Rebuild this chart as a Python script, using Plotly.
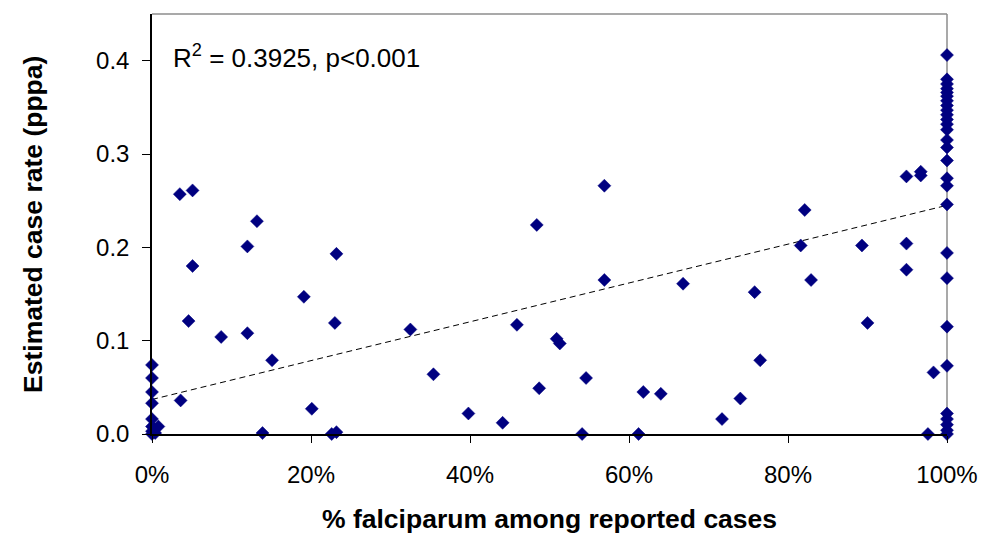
import plotly.graph_objects as go

# ---- data ----
pct_falciparum = [
    0, 0, 0, 0, 0, 0, 0.008, 0, 0, 0.004,
    0.036, 0.035, 0.051, 0.051, 0.046, 0.087, 0.120, 0.120, 0.132, 0.139,
    0.151, 0.191, 0.201, 0.226, 0.232, 0.230, 0.232,
    0.325, 0.354, 0.398, 0.441, 0.459, 0.484, 0.487, 0.509, 0.513, 0.541,
    0.546, 0.569, 0.569, 0.612, 0.618, 0.640, 0.668,
    0.717, 0.740, 0.758, 0.765, 0.816, 0.821, 0.829, 0.893, 0.900, 0.949,
    0.949, 0.949, 0.967, 0.967, 0.976, 0.983,
    1, 1, 1, 1, 1, 1, 1, 1, 1, 1, 1, 1, 1, 1,
    1, 1, 1, 1, 1, 1, 1, 1, 1, 1, 1, 1, 1, 1,
]
case_rate = [
    0.074, 0.060, 0.045, 0.033, 0.016, 0.008, 0.008, 0.003, 0.0, 0.001,
    0.036, 0.257, 0.261, 0.180, 0.121, 0.104, 0.201, 0.108, 0.228, 0.001,
    0.079, 0.147, 0.027, 0.0, 0.002, 0.119, 0.193,
    0.112, 0.064, 0.022, 0.012, 0.117, 0.224, 0.049, 0.102, 0.097, 0.0,
    0.060, 0.266, 0.165, 0.0, 0.045, 0.043, 0.161,
    0.016, 0.038, 0.152, 0.079, 0.202, 0.240, 0.165, 0.202, 0.119, 0.276,
    0.204, 0.176, 0.281, 0.277, 0.0, 0.066,
    0.406, 0.380, 0.375, 0.370, 0.366, 0.362, 0.357, 0.352, 0.347, 0.342,
    0.337, 0.332, 0.326, 0.315, 0.307, 0.293, 0.274, 0.266, 0.246, 0.194,
    0.167, 0.115, 0.073, 0.022, 0.016, 0.010, 0.004, 0.0,
]
trend_intercept = 0.037
trend_slope = 0.208
x_ticks = [0, 0.2, 0.4, 0.6, 0.8, 1.0]
x_tick_labels = ["0%", "20%", "40%", "60%", "80%", "100%"]
y_ticks = [0.0, 0.1, 0.2, 0.3, 0.4]
y_tick_labels = ["0.0", "0.1", "0.2", "0.3", "0.4"]
annotation_text = "R<sup>2</sup> = 0.3925, p<0.001"
x_title = "% falciparum among reported cases"
y_title = "Estimated case rate (pppa)"

FONT = "Liberation Sans, Arial, sans-serif"

trend_x = [0, 1]
trend_y = [trend_intercept + trend_slope * v for v in trend_x]

fig = go.Figure()
fig.add_trace(go.Scatter(
    x=trend_x, y=trend_y, mode="lines",
    line=dict(color="black", width=1, dash="6px,4px"),
    hoverinfo="skip", showlegend=False,
))
fig.add_trace(go.Scatter(
    x=pct_falciparum, y=case_rate, mode="markers",
    marker=dict(symbol="diamond", size=10, color="#000080",
                line=dict(color="#000080", width=0.5)),
    cliponaxis=False, showlegend=False,
))

fig.update_layout(
    width=990, height=535,
    margin=dict(l=152, r=37, t=14, b=101),
    paper_bgcolor="white", plot_bgcolor="white",
    font=dict(family=FONT, color="black", size=24),
    xaxis=dict(
        range=[0, 1], tickvals=x_ticks, ticktext=x_tick_labels,
        showgrid=False, zeroline=False, showline=True,
        linecolor="black", linewidth=1.5,
        ticks="outside", ticklen=7, tickcolor="black", tickwidth=1,
        ticklabelstandoff=11, tickfont=dict(size=24, family=FONT),
    ),
    yaxis=dict(
        range=[0, 0.45], tickvals=y_ticks, ticktext=y_tick_labels,
        showgrid=False, zeroline=False, showline=True,
        linecolor="black", linewidth=1.5,
        ticks="outside", ticklen=8, tickcolor="black", tickwidth=1,
        ticklabelstandoff=8, tickfont=dict(size=24, family=FONT),
    ),
    shapes=[
        dict(type="line", xref="paper", yref="paper", x0=0, x1=1, y0=1, y1=1,
             line=dict(color="#8c8c8c", width=1.5), layer="below"),
        dict(type="line", xref="paper", yref="paper", x0=1, x1=1, y0=0, y1=1,
             line=dict(color="#8c8c8c", width=1.5), layer="below"),
    ],
    annotations=[
        dict(text=annotation_text, x=0.024, y=0.404, xref="x", yref="y",
             xanchor="left", yanchor="middle", showarrow=False,
             font=dict(size=26, family=FONT)),
        dict(text="<b>" + x_title + "</b>", x=0.5, y=-0.202, xref="paper", yref="paper",
             xanchor="center", yanchor="middle", showarrow=False,
             font=dict(size=26.5, family=FONT)),
        dict(text="<b>" + y_title + "</b>", x=-0.1498, y=0.5, xref="paper", yref="paper",
             xanchor="center", yanchor="middle", textangle=-90, showarrow=False,
             font=dict(size=26.5, family=FONT)),
    ],
)

fig.write_html("out.html")
